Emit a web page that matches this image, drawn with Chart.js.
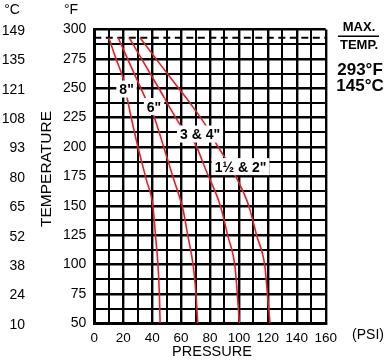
<!DOCTYPE html>
<html><head><meta charset="utf-8">
<script src="https://cdn.jsdelivr.net/npm/chart.js@4.4.0/dist/chart.umd.min.js"></script>
<style>html,body{margin:0;padding:0;background:#fff}#wrap{width:390px;height:361px;position:relative}</style>
</head><body><div id="wrap"><canvas id="c" width="390" height="361"></canvas></div>
<script>
// ---- data ----
const pressureTicks = [0, 20, 40, 60, 80, 100, 120, 140, 160];
const tempFTicks = [50, 75, 100, 125, 150, 175, 200, 225, 250, 275, 300];
const tempCTicks = [10, 24, 38, 52, 65, 80, 93, 108, 121, 135, 149];
const maxTempF = 293;
const maxTempC = 145;
// [psi, degF]
const curve8in = [[10,293],[15,275],[20.5,256],[23,240],[29,206],[36,172],[40.5,150],[42.3,125],[44,100],[45,75],[45.5,50]];
const curve6in = [[16.5,293],[23.4,274],[35,242.5],[40.4,229],[48,200],[54.4,174.4],[61.5,146],[64.6,125],[68.5,98],[70.3,75],[71.5,50]];
const curve3to4in = [[24.2,293],[32.7,275],[44.6,250],[60.4,217],[69.6,203],[77.3,180],[85.8,155],[88.1,146],[92.2,125],[97.3,98],[98.9,75],[100.3,50]];
const curve1to2in = [[31.6,293],[42.7,275],[58.3,250],[66.2,237.4],[77.7,217.2],[83.5,204.4],[89.2,193.1],[97.3,176.1],[105.4,154.8],[107.7,146.3],[112.2,125],[118,98],[119.7,75],[121.5,50]];
const curveLabels = ['8"', '6"', '3 & 4"', '1½ & 2"'];
const curveLabelPsi = [22.3, 41.3, 73.1, 101.1];
const curveLabelTemp = [248.9, 234, 210.6, 182.9];

const FONT = '"Liberation Sans", Arial, Helvetica, sans-serif';
Chart.defaults.font.family = FONT;
Chart.defaults.color = '#000';

const toPts = a => a.map(p => ({x: p[0], y: p[1]}));
const RED = '#ee1c24';
const curveStyle = {showLine: true, borderColor: RED, borderWidth: 1.6, pointRadius: 0, fill: false, cubicInterpolationMode: 'monotone'};

const overlay = {
  id: 'overlay',
  afterDraw(chart) {
    const {ctx, scales: {x, y}} = chart;
    ctx.save();
    ctx.fillStyle = '#000';
    ctx.font = '14px ' + FONT;
    ctx.textAlign = 'right';
    ctx.textBaseline = 'middle';
    tempFTicks.forEach((t, i) => ctx.fillText(String(tempCTicks[i]), 25, y.getPixelForValue(t) + 1.5));
    ctx.textAlign = 'center';
    ctx.fillText('°C', 12, 10);
    ctx.fillText('°F', 71, 10);
    // curve labels with white boxes
    ctx.font = 'bold 14px ' + FONT;
    curveLabels.forEach((s, i) => {
      const px = x.getPixelForValue(curveLabelPsi[i]);
      const py = y.getPixelForValue(curveLabelTemp[i]);
      const w = ctx.measureText(s).width;
      ctx.fillStyle = '#fff';
      ctx.fillRect(px - w / 2 - 3, py - 9, w + 6, 17);
      ctx.fillStyle = '#000';
      ctx.fillText(s, px, py + 1);
    });
    // axis titles
    ctx.font = '14.5px ' + FONT;
    ctx.fillText('PRESSURE', 212, 352);
    ctx.font = '14px ' + FONT;
    ctx.fillText('(PSI)', 368, 335);
    ctx.save();
    ctx.translate(46.5, 169);
    ctx.rotate(-Math.PI / 2);
    ctx.font = '15.5px ' + FONT;
    ctx.fillText('TEMPERATURE', 0, 0);
    ctx.restore();
    // max temp block
    ctx.font = 'bold 13px ' + FONT;
    ctx.fillText('MAX.', 359, 27.5);
    ctx.fillText('TEMP.', 359, 45.5);
    ctx.fillRect(338, 35.5, 41, 1.5);
    ctx.font = 'bold 17px ' + FONT;
    ctx.fillText(maxTempF + '°F', 360, 70);
    ctx.fillText(maxTempC + '°C', 360, 86);
    ctx.restore();
  }
};

new Chart(document.getElementById('c'), {
  type: 'scatter',
  data: {
    datasets: [
      Object.assign({data: toPts(curve8in)}, curveStyle),
      Object.assign({data: toPts(curve6in)}, curveStyle),
      Object.assign({data: toPts(curve3to4in)}, curveStyle),
      Object.assign({data: toPts(curve1to2in)}, curveStyle),
      {data: [{x: pressureTicks[0], y: maxTempF}, {x: pressureTicks[pressureTicks.length - 1], y: maxTempF}],
       showLine: true, borderColor: '#000', borderWidth: 2, borderDash: [7, 4.5], pointRadius: 0, fill: false}
    ]
  },
  options: {
    responsive: false,
    animation: false,
    devicePixelRatio: 1,
    layout: {padding: {left: 0, right: 64.3, top: 29.5, bottom: 0}},
    plugins: {legend: {display: false}, tooltip: {enabled: false}},
    scales: {
      x: {
        type: 'linear', min: pressureTicks[0], max: pressureTicks[pressureTicks.length - 1],
        afterFit: s => { s.height = 37.7; },
        ticks: {stepSize: 10, autoSkip: false, maxRotation: 0, padding: 7,
                font: {size: 13.5},
                callback: v => pressureTicks.includes(v) ? String(v) : ''},
        grid: {color: '#000', lineWidth: c => (c.tick && pressureTicks.includes(c.tick.value)) ? 2.4 : 2, drawTicks: false},
        border: {color: '#000', width: 3}
      },
      y: {
        type: 'linear', min: tempFTicks[0], max: tempFTicks[tempFTicks.length - 1],
        afterFit: s => { s.width = 94.3; },
        ticks: {stepSize: 12.5, autoSkip: false, padding: 8, font: {size: 14},
                callback: v => tempFTicks.includes(v) ? String(v) : ''},
        grid: {color: '#000', lineWidth: c => (c.tick && tempFTicks.includes(c.tick.value)) ? 2.4 : 2, drawTicks: false},
        border: {color: '#000', width: 3}
      }
    }
  },
  plugins: [overlay]
});
</script>
</body></html>
